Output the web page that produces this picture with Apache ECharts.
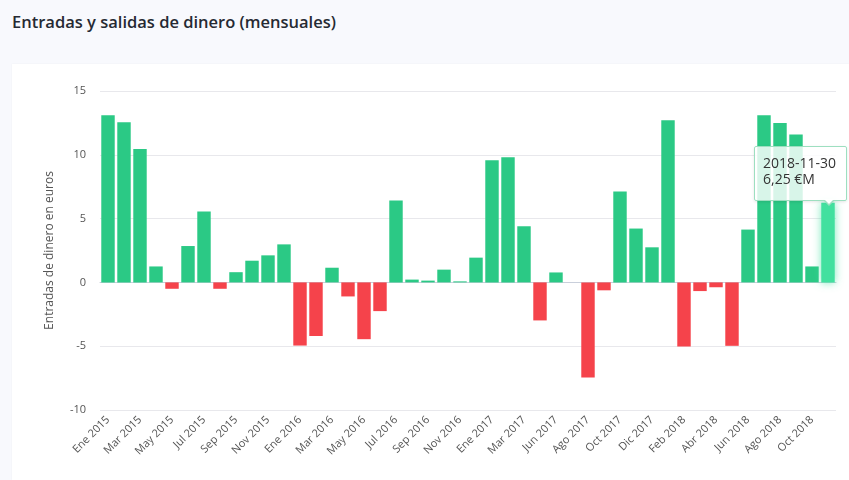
<!DOCTYPE html>
<html>
<head>
<meta charset="utf-8">
<script src="https://cdn.jsdelivr.net/npm/echarts@6/dist/echarts.min.js"></script>
<style>
  html, body { margin: 0; padding: 0; }
  body { width: 849px; height: 480px; background: #f8f9fd; position: relative; overflow: hidden; font-family: "Open Sans", sans-serif; }
  #title { position: absolute; left: 12px; top: 10px; font-size: 16.5px; font-weight: 600; color: #262a33; }
  #card { position: absolute; left: 12px; top: 64px; right: 0; bottom: 0; background: #fff; box-shadow: 0 0 2px rgba(0,0,0,0.04); }
  #chart { position: absolute; left: 0; top: 0; width: 849px; height: 480px; }
  .tip-arrow { position: absolute; left: 68px; bottom: -6px; width: 0; height: 0;
    border-left: 6px solid transparent; border-right: 6px solid transparent; border-top: 6px solid #9ddfc0; }
  .tip-arrow::after { content: ""; position: absolute; left: -5px; top: -7px; width: 0; height: 0;
    border-left: 5px solid transparent; border-right: 5px solid transparent; border-top: 5px solid #fff; }
</style>
</head>
<body>
<div id="title">Entradas y salidas de dinero (mensuales)</div>
<div id="card"></div>
<div id="chart"></div>
<script>
const monthNames = ["Ene", "Feb", "Mar", "Abr", "May", "Jun", "Jul", "Ago", "Sep", "Oct", "Nov", "Dic"];

// month-end dates, one per bar (May 2017 is missing in the source)
const months = [
  "2015-01-31", "2015-02-28", "2015-03-31", "2015-04-30", "2015-05-31", "2015-06-30",
  "2015-07-31", "2015-08-31", "2015-09-30", "2015-10-31", "2015-11-30", "2015-12-31",
  "2016-01-31", "2016-02-29", "2016-03-31", "2016-04-30", "2016-05-31", "2016-06-30",
  "2016-07-31", "2016-08-31", "2016-09-30", "2016-10-31", "2016-11-30", "2016-12-31",
  "2017-01-31", "2017-02-28", "2017-03-31", "2017-04-30", "2017-06-30",
  "2017-07-31", "2017-08-31", "2017-09-30", "2017-10-31", "2017-11-30", "2017-12-31",
  "2018-01-31", "2018-02-28", "2018-03-31", "2018-04-30", "2018-05-31", "2018-06-30",
  "2018-07-31", "2018-08-31", "2018-09-30", "2018-10-31", "2018-11-30",
];

const netFlow = [
  13.1, 12.55, 10.45, 1.25, -0.5, 2.85, 5.55, -0.5, 0.8, 1.7, 2.12, 2.98,
  -4.95, -4.2, 1.15, -1.1, -4.45, -2.25, 6.42, 0.22, 0.14, 1.0, 0.08, 1.94,
  9.58, 9.8, 4.4, -2.98, 0.78,
  0, -7.45, -0.62, 7.12, 4.22, 2.75, 12.7,
  -5.02, -0.68, -0.38, -4.97, 4.14, 13.1, 12.5, 11.6, 1.25, 6.25,
];

const highlightIndex = 45;

const green = "#2bc985";
const red = "#f5434b";

const chart = echarts.init(document.getElementById("chart"));

const monthLabel = (value) => {
  const [y, m] = value.split("-");
  return monthNames[Number(m) - 1] + " " + y;
};

chart.setOption({
  animation: false,
  textStyle: { fontFamily: "Open Sans" },
  grid: { left: 100, right: 13, top: 91, bottom: 70 },
  tooltip: {
    trigger: "item",
    alwaysShowContent: true,
    transitionDuration: 0,
    backgroundColor: "rgba(255,255,255,0.82)",
    borderColor: "#9ddfc0",
    borderWidth: 1,
    padding: [8, 10, 13, 8],
    textStyle: { color: "#333", fontSize: 14, fontFamily: "Open Sans", lineHeight: 16 },
    extraCssText: "box-shadow: 0 1px 3px rgba(0,0,0,0.10); border-radius: 2px; overflow: visible;",
    formatter: (params) =>
      params.name + "<br/>" + params.value.toFixed(2).replace(".", ",") + " €M" +
      '<span class="tip-arrow"></span>',
    position: (point, params, dom, rect, size) => {
      let cx, top;
      if (rect) {
        cx = rect.x + rect.width / 2;
        top = rect.y;
      } else {
        const p = chart.convertToPixel({ seriesIndex: 0 }, [params.dataIndex, params.value]);
        cx = p[0];
        top = p[1];
      }
      return [cx - 74, top - size.contentSize[1] - 2];
    },
  },
  xAxis: {
    type: "category",
    data: months,
    axisLine: { lineStyle: { color: "#c9cfdb" } },
    axisTick: { alignWithLabel: true, interval: 1, lineStyle: { color: "#c9cfdb" } },
    axisLabel: {
      interval: 1,
      rotate: 45,
      color: "#555",
      fontSize: 11,
      margin: 8,
      formatter: monthLabel,
    },
  },
  yAxis: {
    type: "value",
    min: -10,
    max: 15,
    interval: 5,
    name: "Entradas de dinero en euros",
    nameLocation: "middle",
    nameGap: 44,
    nameTextStyle: { color: "#555", fontSize: 12 },
    axisLabel: { color: "#555", fontSize: 11, margin: 14 },
    splitLine: { lineStyle: { color: "#e8e8ec" } },
  },
  series: [
    {
      type: "bar",
      data: netFlow,
      barWidth: "84%",
      itemStyle: {
        color: (p) => (p.value >= 0 ? green : red),
      },
      emphasis: {
        itemStyle: {
          color: "#42e09f",
          shadowBlur: 8,
          shadowColor: "rgba(66,224,159,0.7)",
        },
      },
    },
  ],
});

chart.dispatchAction({ type: "highlight", seriesIndex: 0, dataIndex: highlightIndex });
chart.dispatchAction({ type: "showTip", seriesIndex: 0, dataIndex: highlightIndex });
</script>
</body>
</html>
